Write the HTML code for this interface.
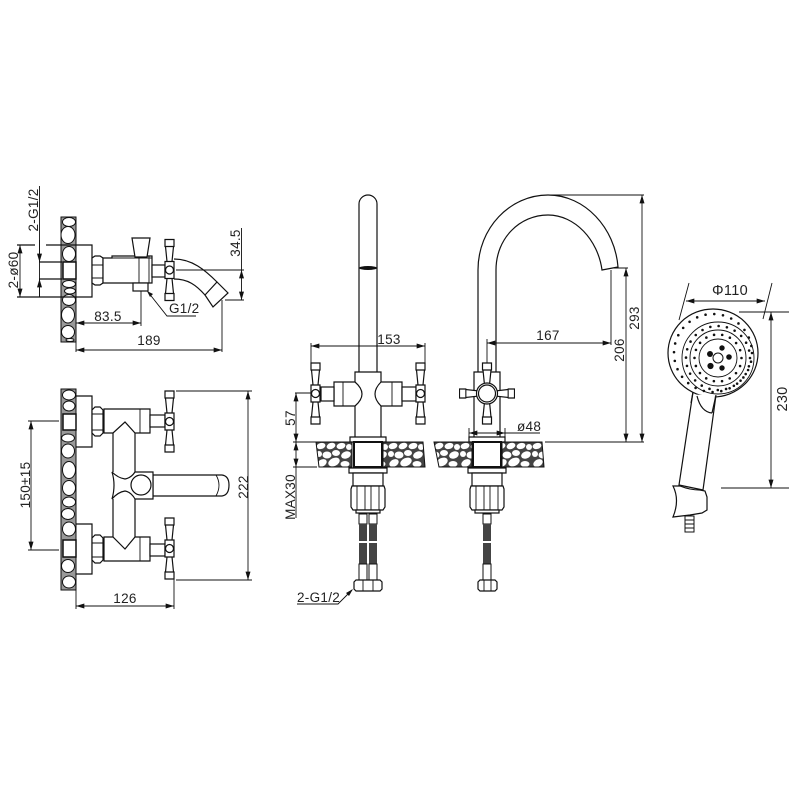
<!DOCTYPE html>
<html>
<head>
<meta charset="utf-8">
<style>
html,body{margin:0;padding:0;background:#fff}
svg{display:block}
text{font-family:"Liberation Sans",sans-serif;fill:#222;font-size:13.5px;letter-spacing:.3px;stroke:none}
.l{fill:none;stroke:#111;stroke-width:1.2}
.t{fill:none;stroke:#111;stroke-width:.9}
.w{fill:#fff;stroke:#111;stroke-width:1.2}
.s{fill:#fff;stroke:#111;stroke-width:1}
.d{stroke:#111;stroke-width:.9;fill:none;marker-start:url(#a);marker-end:url(#a)}
.e{stroke:#111;stroke-width:.9;fill:none;marker-end:url(#a)}
</style>
</head>
<body>
<svg width="800" height="800" viewBox="0 0 800 800" xmlns="http://www.w3.org/2000/svg">
<defs>
<marker id="a" viewBox="0 0 10 6" refX="10" refY="3" markerWidth="9" markerHeight="5" markerUnits="userSpaceOnUse" orient="auto-start-reverse"><path d="M0,0L10,3L0,6Z" fill="#111"/></marker>
<pattern id="p" patternUnits="userSpaceOnUse" x="316" y="442" width="36" height="25">
<rect width="36" height="25" fill="#444"/>
<g fill="#fff">
<ellipse cx="5" cy="4" rx="4.500" ry="3" transform="rotate(-15 5 4)"/>
<ellipse cx="15" cy="4" rx="4.500" ry="3" transform="rotate(-20 15 4)"/>
<ellipse cx="25" cy="4" rx="4.500" ry="3" transform="rotate(-15 25 4)"/>
<ellipse cx="33" cy="5" rx="3" ry="3"/>
<ellipse cx="3" cy="12" rx="3" ry="3"/>
<ellipse cx="11" cy="13" rx="4.500" ry="3.500"/>
<ellipse cx="20" cy="11" rx="4" ry="3"/>
<ellipse cx="30" cy="13" rx="5" ry="3.500" transform="rotate(-20 30 13)"/>
<ellipse cx="6" cy="21" rx="5" ry="3.500" transform="rotate(-30 6 21)"/>
<ellipse cx="18" cy="20" rx="6" ry="4" transform="rotate(-25 18 20)"/>
<ellipse cx="29" cy="22" rx="4.500" ry="3"/>
</g>
</pattern>
<g id="h">
<path class="w" d="M-4.500,-30.500H4.500V-23.500H-4.500ZM-4,-23.500L-2.500,-8.500H2.500L4,-23.500ZM-4.500,-8.500H4.500V8.500H-4.500ZM-2.500,8.500L-4,23.500H4L2.500,8.500ZM-4.500,23.500H4.500V30.500H-4.500Z"/>
<circle class="w" r="4"/>
</g>
<g id="base">
<path class="w" d="M-18,-5H18V0H-18Z"/>
<rect x="-14" y="0" width="28" height="25" fill="#fff" stroke="#111" stroke-width="2"/>
<path class="w" d="M-19,26H19L19,31H-19Z"/>
<path class="w" d="M-15,31H15V44H-15Z"/>
<path class="w" d="M-16,44H16L17,47V65L15,68H-15L-17,65V47Z"/>
<path class="t" d="M-11,44V68M-3,44V68M3,44V68M11,44V68"/>
</g>
<g id="hose">
<rect class="s" x="-4" y="0" width="8" height="10"/>
<rect x="-4" y="10" width="8" height="17" fill="#444"/>
<rect x="-4" y="29" width="8" height="21" fill="#444"/>
<rect class="s" x="-4" y="50" width="8" height="16"/>
</g>
</defs>

<!-- Side view wall -->
<rect x="61" y="217" width="15" height="125" fill="#999" stroke="#111"/>
<ellipse class="s" cx="69" cy="222" rx="6.500" ry="4.500"/><ellipse class="s" cx="68" cy="235" rx="7" ry="8.500"/><ellipse class="s" cx="69" cy="254" rx="6.500" ry="7.500"/>
<ellipse class="s" cx="69" cy="284" rx="6.500" ry="3.500"/><ellipse class="s" cx="70" cy="291" rx="5.500" ry="3"/><ellipse class="s" cx="69" cy="300" rx="6.500" ry="5.500"/><ellipse class="s" cx="68" cy="315" rx="6.500" ry="8"/><ellipse class="s" cx="68" cy="332" rx="6.500" ry="6.500"/><ellipse class="s" cx="70" cy="340" rx="4" ry="1.500"/>
<rect x="63" y="262" width="13" height="17" fill="#fff" stroke="#111" stroke-width="1.5"/>
<path class="l" d="M46,245H92V297H17M17,245H35M39,262H62M39,279H62"/>
<path class="w" d="M92,258L95,256H100L103,258V283L100,285H95L92,283Z"/>
<path class="t" d="M92,265H103M92,278H103"/>
<path class="w" d="M103,258H112V256H152V283H103Z"/>
<path class="t" d="M112,258H152M139,258V283M149,256V283"/>
<path class="w" d="M132,238H150L147,257H135Z"/>
<rect class="w" x="133" y="283" width="15" height="8"/>
<rect class="w" x="152" y="265" width="13" height="12"/>
<path class="l" d="M174,259C192,259 205,270 217,282M174,279C188,279 196,285 205,295"/>
<path class="w" d="M217,282L228,293L213,307L205,295Z"/>
<use href="#h" transform="translate(169.500,270)"/>
<path class="t" d="M39.500,186V297"/>
<path class="e" d="M39.500,240V262"/>
<path class="e" d="M39.500,297V279"/>
<path class="d" d="M20,245V297"/>
<path class="t" d="M241.500,228V270"/>
<path class="d" d="M241.500,270V300"/>
<path class="t" d="M176,270H244M225,300H244"/>
<path class="d" d="M76,323H141"/>
<path class="t" d="M141,291V326"/>
<path class="d" d="M76,350H222"/>
<path class="t" d="M222,300V352M76,342V352"/>
<path class="t" d="M148,292L167,316H196"/>
<path d="M147,291L153,294L150,297Z" fill="#111"/>
<text x="169" y="313">G1/2</text>
<text x="108" y="321" text-anchor="middle">83.5</text>
<text x="149" y="345" text-anchor="middle">189</text>
<text transform="translate(38,210) rotate(-90)" text-anchor="middle">2-G1/2</text>
<text transform="translate(18,270) rotate(-90)" text-anchor="middle">2-ø60</text>
<text transform="translate(240,243) rotate(-90)" text-anchor="middle">34.5</text>

<!-- Front view wall -->
<rect x="61" y="389" width="15" height="201" fill="#999" stroke="#111"/>
<ellipse class="s" cx="69" cy="395" rx="6.500" ry="5"/><ellipse class="s" cx="69" cy="406" rx="6" ry="5"/><ellipse class="s" cx="68" cy="438" rx="6.500" ry="4"/><ellipse class="s" cx="68" cy="451" rx="6.500" ry="7"/><ellipse class="s" cx="69" cy="470" rx="6.500" ry="8.500"/><ellipse class="s" cx="69" cy="488" rx="6.500" ry="7.500"/><ellipse class="s" cx="69" cy="502" rx="6.500" ry="5"/><ellipse class="s" cx="68" cy="514" rx="6.500" ry="5.500"/><ellipse class="s" cx="69" cy="529" rx="6.500" ry="7"/><ellipse class="s" cx="68" cy="566" rx="6.500" ry="6.500"/><ellipse class="s" cx="69" cy="582" rx="6.500" ry="6"/>
<rect x="63" y="414" width="13" height="16" fill="#fff" stroke="#111" stroke-width="1.5"/>
<rect x="63" y="540" width="13" height="17" fill="#fff" stroke="#111" stroke-width="1.5"/>
<path class="l" d="M76,396H92V447H76M76,524H92V574H76"/>
<path class="w" d="M92,410L95,407H100L103,410V433L100,436H95L92,433Z"/>
<path class="t" d="M92,414H103M92,430H103"/>
<path class="w" d="M92,538L95,535H100L103,538V560L100,563H95L92,560Z"/>
<path class="t" d="M92,543H103M92,557H103"/>
<path class="w" d="M104,409H150V433H135L125,422L113,433H104Z"/>
<path class="w" d="M104,561H150V537H135L125,549L113,537H104Z"/>
<path class="t" d="M140,409V433M140,537V561"/>
<path class="l" d="M113,433V472M135,433V472M113,499V537M135,499V537"/>
<rect class="w" x="150" y="415" width="15" height="12"/>
<rect class="w" x="150" y="544" width="15" height="12"/>
<use href="#h" transform="translate(169.500,421.500)"/>
<use href="#h" transform="translate(169.500,548.500)"/>
<path class="w" d="M153,475H222Q229,476 229,485Q229,495 222,496H153Z"/>
<path class="t" d="M216,475Q222,485 216,496"/>
<path class="w" d="M112,472Q118,478 125,479Q131,478 135,472H153V499H135Q131,492 125,491Q118,492 112,499Q116,485 112,472Z"/>
<circle class="w" cx="141" cy="485" r="10"/>
<path class="d" d="M31,421V550"/>
<path class="t" d="M28,421H59M28,550H59"/>
<path class="d" d="M248,391V580"/>
<path class="t" d="M176,391H252M176,580H252"/>
<path class="d" d="M76,606H174"/>
<path class="t" d="M76,574V609M174,579V609"/>
<text x="125" y="603" text-anchor="middle">126</text>
<text transform="translate(30,485) rotate(-90)" text-anchor="middle">150±15</text>
<text transform="translate(248,487) rotate(-90)" text-anchor="middle">222</text>

<!-- Left faucet -->
<path class="l" d="M359,372V204A9,9 0 0 1 377,204V372"/>
<ellipse cx="368" cy="268" rx="9" ry="2" fill="#111"/>
<path class="l" d="M355,382V372H381V382M355,406V437M381,406V437"/>
<path class="w" d="M334,382H355Q362,388 362,394Q362,400 355,406H334Z"/>
<path class="w" d="M402,382H381Q375,388 375,394Q375,400 381,406H402Z"/>
<path class="t" d="M343,382V406M392,382V406"/>
<rect class="w" x="321" y="387" width="13" height="14"/>
<rect class="w" x="402" y="387" width="14" height="14"/>
<use href="#h" transform="translate(315.500,393.500)"/>
<use href="#h" transform="translate(420.500,393.500)"/>
<path d="M316,442H352V467H319Z" fill="url(#p)" stroke="#111"/>
<path d="M383,442H423L425,467H383Z" fill="url(#p)" stroke="#111"/>
<use href="#base" transform="translate(368,442)"/>
<rect class="w" x="356" y="510" width="24" height="3"/>
<use href="#hose" transform="translate(363,514)"/>
<use href="#hose" transform="translate(373,514)"/>
<path class="w" d="M356,580H380L382,582V589L380,591H356L354,589V582Z"/>
<path class="t" d="M363,580V591M373,580V591"/>
<path class="t" d="M311,343V363M425,343V363"/>
<path class="d" d="M311,346H425"/>
<path class="d" d="M296,393V442"/>
<path class="t" d="M295,393H311M293,442H316M293,467H317"/>
<path class="d" d="M296,442V467"/>
<path class="t" d="M296,467V518"/>
<text x="389" y="344" text-anchor="middle">153</text>
<text transform="translate(295,418) rotate(-90)" text-anchor="middle">57</text>
<text transform="translate(295,497) rotate(-90)" text-anchor="middle">MAX30</text>
<path class="t" d="M297,604H338L352,590"/>
<path d="M353,589L349,596L346,593Z" fill="#111"/>
<text x="297" y="602">2-G1/2</text>

<!-- Right faucet -->
<path class="l" d="M478,372V270C478,228 510,195 548,195C585,195 615,228 618,267L602,270C598,240 575,215 548,215C520,215 496,238 496,270V372"/>
<path class="l" d="M474,437V372H500V437"/>
<use href="#h" transform="translate(487,393.500) rotate(90) scale(1,.9)"/>
<use href="#h" transform="translate(487,393.500)"/>
<circle class="w" cx="487" cy="393.500" r="10.500"/>
<circle class="l" cx="487" cy="393.500" r="8.500"/>
<path d="M434,442H472V467H439Z" fill="url(#p)" stroke="#111"/>
<path d="M502,442H542L544,467H502Z" fill="url(#p)" stroke="#111"/>
<use href="#base" transform="translate(487,442)"/>
<rect class="w" x="475" y="510" width="24" height="3"/>
<use href="#hose" transform="translate(487,514)"/>
<path class="w" d="M480,580H495L497,582V589L495,591H480L478,589V582Z"/>
<path class="t" d="M484,580V591M491,580V591"/>
<path class="d" d="M469,433H505"/>
<path class="t" d="M469,428V437M505,428V437M505,433H540"/>
<text x="517" y="431">ø48</text>
<path class="d" d="M487,343H611"/>
<path class="t" d="M487,339V363M611,270V345"/>
<text x="548" y="340" text-anchor="middle">167</text>
<path class="d" d="M626,268V442"/>
<path class="d" d="M642,195V442"/>
<path class="t" d="M548,195H644M612,268H628M545,442H644"/>
<text transform="translate(624,350) rotate(-90)" text-anchor="middle">206</text>
<text transform="translate(639,318) rotate(-90)" text-anchor="middle">293</text>

<!-- Shower -->
<path class="w" d="M693,392L679,485L703,490L716,395Z"/>
<ellipse class="w" cx="713" cy="353" rx="45" ry="44"/>
<path d="M695,394.500L715,395.500L714,402H696Z" fill="#fff" stroke="none"/>
<path class="l" d="M697,396Q701,412 712,413"/>
<path class="l" d="M693,392L691,403M716,395L712,413"/>
<g fill="none" stroke="#111" stroke-width=".9">
<circle cx="718" cy="358" r="19"/>
<circle cx="718" cy="358" r="28"/>
<circle cx="718" cy="358" r="36"/>
</g>
<circle cx="718" cy="358" r="5" fill="#fff" stroke="#111"/>
<g fill="#111">
<circle cx="710" cy="354" r="3"/><circle cx="722" cy="348" r="2.700"/><circle cx="729" cy="357" r="2.800"/><circle cx="710.500" cy="366" r="3.100"/><circle cx="722" cy="368" r="2.700"/>
</g>
<g fill="none" stroke="#111" stroke-linecap="round" stroke-width="2.600">
<circle cx="718" cy="358" r="23.500" stroke-dasharray="0 8.200"/>
<circle cx="718" cy="358" r="32" stroke-dasharray="0 8.400"/>
<circle cx="713" cy="353" r="39" stroke-dasharray="0 8.800"/>
</g>
<path class="w" d="M673,486L680,486Q690,490 700,490L705,491L707,497V510L702,513L690,515L673,517Q680,500 673,486Z"/>
<rect class="s" x="685" y="516" width="9" height="16"/>
<path class="t" d="M685,520H694M685,524H694M685,528H694"/>
<path class="d" d="M686,301H765"/>
<path class="t" d="M689,283L679,320M772,283L763,319"/>
<text x="730" y="295" text-anchor="middle" style="font-size:14.500px">Φ110</text>
<path class="d" d="M771,312V488"/>
<path class="t" d="M739,312H789M721,488H789"/>
<text transform="translate(787,399) rotate(-90)" text-anchor="middle" style="font-size:14.500px">230</text>
</svg>
</body>
</html>
